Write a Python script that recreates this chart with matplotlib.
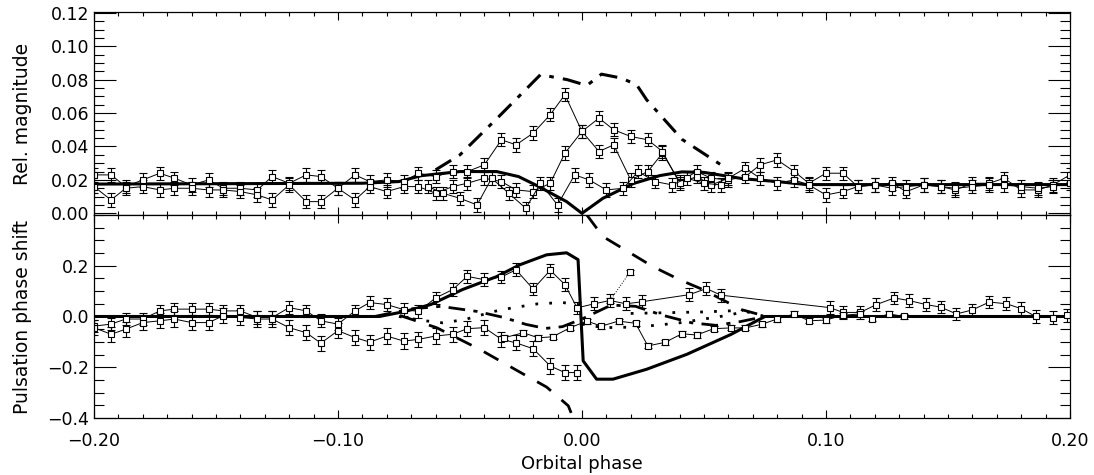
import numpy as np
import matplotlib.pyplot as plt
from matplotlib.ticker import MultipleLocator

plt.rcParams['font.family'] = ['DejaVu Sans']

# ---- top panel: relative magnitude ----
phase_grid = [-0.200, -0.193, -0.187, -0.180, -0.173, -0.167, -0.160, -0.153, -0.147, -0.140,
              -0.133, -0.127, -0.120, -0.113, -0.107, -0.100, -0.093, -0.087, -0.080, -0.073,
              -0.067, -0.060, -0.053, -0.047, -0.040, -0.033, -0.027, -0.020, -0.013, -0.007,
              0.000, 0.007, 0.013, 0.020, 0.027, 0.033, 0.040, 0.047, 0.053, 0.060,
              0.067, 0.073, 0.080, 0.087, 0.093, 0.100, 0.107, 0.113, 0.120, 0.127,
              0.133, 0.140, 0.147, 0.153, 0.160, 0.167, 0.173, 0.180, 0.187, 0.193, 0.200]

mag_a = [0.023, 0.023, 0.016, 0.020, 0.024, 0.021, 0.017, 0.020, 0.015, 0.015,
         0.014, 0.022, 0.018, 0.023, 0.022, 0.015, 0.023, 0.019, 0.020, 0.019,
         0.024, 0.022, 0.025, 0.025, 0.029, 0.044, 0.041, 0.048, 0.059, 0.071,
         0.049, 0.037, 0.041, 0.020, 0.025, 0.036, 0.019, 0.025, 0.021, 0.020,
         0.022, 0.029, 0.032, 0.025, 0.018, 0.024, 0.024, 0.016, 0.017, 0.018,
         0.013, 0.017, 0.016, 0.014, 0.018, 0.018, 0.021, 0.014, 0.014, 0.017, 0.023]

mag_b = [0.016, 0.008, 0.015, 0.016, 0.014, 0.015, 0.015, 0.014, 0.014, 0.013,
         0.011, 0.008, 0.017, 0.007, 0.007, 0.015, 0.008, 0.016, 0.013, 0.016,
         0.016, 0.012, 0.016, 0.018, 0.021, 0.019, 0.014, 0.013, 0.018, 0.036,
         0.049, 0.057, 0.050, 0.046, 0.044, 0.037, 0.018, 0.022, 0.017, 0.021,
         0.027, 0.021, 0.018, 0.020, 0.017, 0.011, 0.013, 0.016, 0.017, 0.015,
         0.016, 0.017, 0.016, 0.015, 0.016, 0.017, 0.017, 0.016, 0.015, 0.016, 0.018]

phase_c = [-0.063, -0.057, -0.050, -0.043, -0.037, -0.030, -0.023, -0.017, -0.010, -0.003,
           0.003, 0.010, 0.017, 0.023, 0.030, 0.037, 0.043, 0.050, 0.057]
mag_c = [0.016, 0.012, 0.009, 0.005, 0.021, 0.012, 0.003, 0.018, 0.005, 0.023,
         0.020, 0.014, 0.015, 0.025, 0.019, 0.017, 0.021, 0.018, 0.017]

mag_err = 0.004

model_solid_x = [-0.200, -0.090, -0.075, -0.066, -0.050, -0.035, -0.026, -0.0186, -0.0063, 0.000,
                 0.0086, 0.021, 0.032, 0.041, 0.050, 0.066, 0.080, 0.092, 0.120, 0.200]
model_solid_y = [0.0175, 0.018, 0.019, 0.0225, 0.025, 0.025, 0.022, 0.0167, 0.007, 0.000,
                 0.009, 0.0178, 0.0226, 0.0248, 0.0245, 0.0207, 0.019, 0.0172, 0.0172, 0.0172]

model_dashdot_x = [-0.060, -0.050, -0.034, -0.017, -0.006, 0.002, 0.008, 0.016, 0.0224, 0.0265, 0.041, 0.057]
model_dashdot_y = [0.026, 0.035, 0.058, 0.083, 0.080, 0.0765, 0.0833, 0.081, 0.077, 0.068, 0.0443, 0.029]

# ---- bottom panel: pulsation phase shift ----
phase_p1 = [-0.200, -0.193, -0.187, -0.180, -0.173, -0.167, -0.160, -0.153, -0.147, -0.140,
            -0.133, -0.127, -0.120, -0.113, -0.107, -0.100, -0.093, -0.087, -0.080, -0.073,
            -0.067, -0.060, -0.053, -0.047, -0.040, -0.033, -0.027, -0.020, -0.013, -0.007,
            -0.002, 0.005, 0.0115, 0.018, 0.0245, 0.044, 0.051, 0.057, 0.1016, 0.107,
            0.114, 0.1207, 0.128, 0.134, 0.141, 0.147, 0.1535, 0.160, 0.167, 0.174,
            0.180, 0.186, 0.193, 0.199]
shift_p1 = [-0.038, -0.030, -0.010, -0.010, 0.022, 0.029, 0.029, 0.029, 0.022, 0.022,
            -0.004, -0.004, 0.035, 0.022, -0.017, -0.030, 0.022, 0.055, 0.047, 0.027,
            0.020, 0.073, 0.106, 0.158, 0.145, 0.156, 0.184, 0.108, 0.182, 0.126,
            0.034, 0.050, 0.063, 0.050, 0.058, 0.086, 0.110, 0.084, 0.035, 0.016,
            0.016, 0.047, 0.073, 0.063, 0.047, 0.037, 0.010, 0.026, 0.057, 0.050,
            0.031, 0.000, -0.004, 0.005]

phase_p2 = [-0.200, -0.193, -0.187, -0.180, -0.173, -0.167, -0.160, -0.153, -0.147, -0.140,
            -0.133, -0.127, -0.120, -0.113, -0.107, -0.100, -0.093, -0.087, -0.080, -0.073,
            -0.067, -0.060, -0.053, -0.047, -0.040, -0.033, -0.027, -0.020, -0.013, -0.007,
            -0.002]
shift_p2 = [-0.044, -0.070, -0.050, -0.024, -0.017, -0.010, -0.024, -0.024, 0.003, -0.004,
            -0.010, -0.010, -0.044, -0.064, -0.105, -0.056, -0.083, -0.101, -0.077, -0.097,
            -0.090, -0.077, -0.070, -0.048, -0.044, -0.090, -0.104, -0.127, -0.195, -0.221,
            -0.221]

phase_p3 = [-0.032, -0.024, -0.018, -0.012, -0.005, 0.002, 0.008, 0.015, 0.022, 0.027,
            0.034, 0.041, 0.047, 0.054, 0.061, 0.067, 0.0736, 0.080, 0.087, 0.093,
            0.100, 0.107, 0.114, 0.119, 0.126, 0.132]
shift_p3 = [-0.084, -0.064, -0.084, -0.080, -0.045, -0.018, -0.038, -0.018, -0.027, -0.116,
            -0.102, -0.068, -0.073, -0.048, -0.045, -0.045, -0.031, -0.010, 0.010, -0.017,
            -0.014, 0.005, 0.010, -0.008, 0.010, 0.000]

phase_p4 = [0.0115, 0.0197]
shift_p4 = [0.063, 0.175]

shift_err1 = 0.025
shift_err2 = 0.030
shift_err3 = 0.010

solid_x = [-0.200, -0.083, -0.0725, -0.062, -0.049, -0.035, -0.0254, -0.0145, -0.0063, -0.0016,
           0.0005, 0.006, 0.0127, 0.0265, 0.043, 0.061, 0.075, 0.200]
solid_y = [0.000, 0.000, 0.020, 0.047, 0.106, 0.157, 0.204, 0.243, 0.251, 0.224,
           -0.175, -0.247, -0.247, -0.208, -0.149, -0.071, 0.000, 0.000]

dashed_up_x = [0.002, 0.0086, 0.029, 0.040, 0.0496, 0.0654, 0.0757]
dashed_up_y = [0.400, 0.315, 0.197, 0.145, 0.106, 0.027, 0.000]
dashed_dn_x = [-0.0746, -0.0596, -0.042, -0.024, -0.0145, -0.0056, -0.004]
dashed_dn_y = [0.004, -0.044, -0.129, -0.227, -0.278, -0.352, -0.39]

dashdot_x = [-0.085, -0.070, -0.058, -0.043, -0.032, -0.023, -0.015, -0.008, 0.000,
             0.012, 0.022, 0.033, 0.045, 0.055, 0.065, 0.075]
dashdot_y = [0.000, 0.030, 0.040, 0.020, -0.004, -0.031, -0.047, -0.040, -0.010,
             0.045, 0.040, 0.005, -0.025, -0.035, -0.020, 0.000]

dotted_l_x = [-0.075, -0.066, -0.057, -0.048, -0.036, -0.028, -0.018, -0.008, 0.000]
dotted_l_y = [0.000, -0.015, -0.025, -0.012, 0.020, 0.035, 0.050, 0.055, 0.045]
dotted_r_x = [0.000, 0.009, 0.020, 0.030, 0.040, 0.050, 0.060, 0.067, 0.075]
dotted_r_y = [-0.030, -0.044, -0.042, -0.035, -0.025, -0.010, 0.005, 0.020, 0.000]
dotted_r2_x = [0.020, 0.035, 0.050, 0.060, 0.066]
dotted_r2_y = [0.012, 0.015, 0.018, 0.022, 0.024]

fig = plt.figure(figsize=(10.94, 4.75), dpi=100)
ax1 = fig.add_axes([0.0859, 0.5474, 0.8921, 0.4273])
ax2 = fig.add_axes([0.0859, 0.1200, 0.8921, 0.4274], sharex=ax1)

eb = dict(fmt='-s', color='black', mfc='white', mec='black', ms=5, mew=0.8,
          lw=0.7, elinewidth=0.8, capsize=3, capthick=0.8)

ax1.errorbar(phase_grid, mag_a, yerr=mag_err, **eb)
ax1.errorbar(phase_grid, mag_b, yerr=mag_err, **eb)
ax1.errorbar(phase_c, mag_c, yerr=mag_err, **eb)
ax1.plot(model_solid_x, model_solid_y, color='black', lw=2.2)
ax1.plot(model_dashdot_x, model_dashdot_y, color='black', lw=2.2, ls=(0, (6, 3, 1.5, 3)))

ax2.errorbar(phase_p1, shift_p1, yerr=shift_err1, **eb)
ax2.errorbar(phase_p2, shift_p2, yerr=shift_err2, **eb)
ax2.errorbar(phase_p3, shift_p3, yerr=shift_err3, **eb)
ax2.errorbar(phase_p4, shift_p4, yerr=shift_err3, fmt='s', color='black', mfc='white',
             mec='black', ms=5, mew=0.8, elinewidth=0.8, capsize=3)
ax2.plot(phase_p4, shift_p4, color='black', lw=0.7, ls=':')
ax2.plot(solid_x, solid_y, color='black', lw=2.2)
ax2.plot(dashed_up_x, dashed_up_y, color='black', lw=2.0, ls=(0, (6, 5)))
ax2.plot(dashed_dn_x, dashed_dn_y, color='black', lw=2.0, ls=(0, (6, 5)))
ax2.plot(dashdot_x, dashdot_y, color='black', lw=2.0, ls=(0, (6, 3, 1.5, 3)))
ax2.plot(dotted_l_x, dotted_l_y, color='black', lw=2.0, ls=(0, (1, 4)))
ax2.plot(dotted_r_x, dotted_r_y, color='black', lw=2.0, ls=(0, (1, 4)))
ax2.plot(dotted_r2_x, dotted_r2_y, color='black', lw=2.0, ls=(0, (1, 4)))

ax1.set_xlim(-0.2, 0.2)
ax1.set_ylim(-0.001, 0.1205)
ax2.set_ylim(-0.4, 0.4)

for ax in (ax1, ax2):
    ax.xaxis.set_major_locator(MultipleLocator(0.1))
    ax.xaxis.set_minor_locator(MultipleLocator(0.01))
    ax.tick_params(which='both', direction='in', top=True, right=True, labelsize=12.5, width=0.8)
    ax.tick_params(axis='x', which='major', length=6)
    ax.tick_params(axis='x', which='minor', length=3)
    ax.tick_params(axis='y', which='major', length=16)
    ax.tick_params(axis='y', which='minor', length=7)
    for s in ax.spines.values():
        s.set_linewidth(0.9)

ax1.yaxis.set_minor_locator(MultipleLocator(0.005))
ax1.set_yticks([0.0, 0.02, 0.04, 0.06, 0.08, 0.10, 0.12])
ax1.set_yticklabels(['0.00', '0.02', '0.04', '0.06', '0.08', '0.10', '0.12'])
ax1.tick_params(labelbottom=False)

ax2.set_yticks([-0.4, -0.2, 0.0, 0.2])
ax2.set_yticklabels(['\u22120.4', '\u22120.2', '0.0', '0.2'])
ax2.yaxis.set_minor_locator(MultipleLocator(0.05))
ax2.set_xticks([-0.2, -0.1, 0.0, 0.1, 0.2])
ax2.set_xticklabels(['\u22120.20', '\u22120.10', '0.00', '0.10', '0.20'])
ax2.tick_params(axis='x', pad=10)

ax1.set_ylabel('Rel. magnitude', fontsize=13.5)
ax2.set_ylabel('Pulsation phase shift', fontsize=13.5)
ax1.yaxis.set_label_coords(-0.064, 0.5)
ax2.yaxis.set_label_coords(-0.064, 0.5)
ax2.set_xlabel('Orbital phase', fontsize=13, labelpad=4)

fig.savefig('out.png', dpi=100)
